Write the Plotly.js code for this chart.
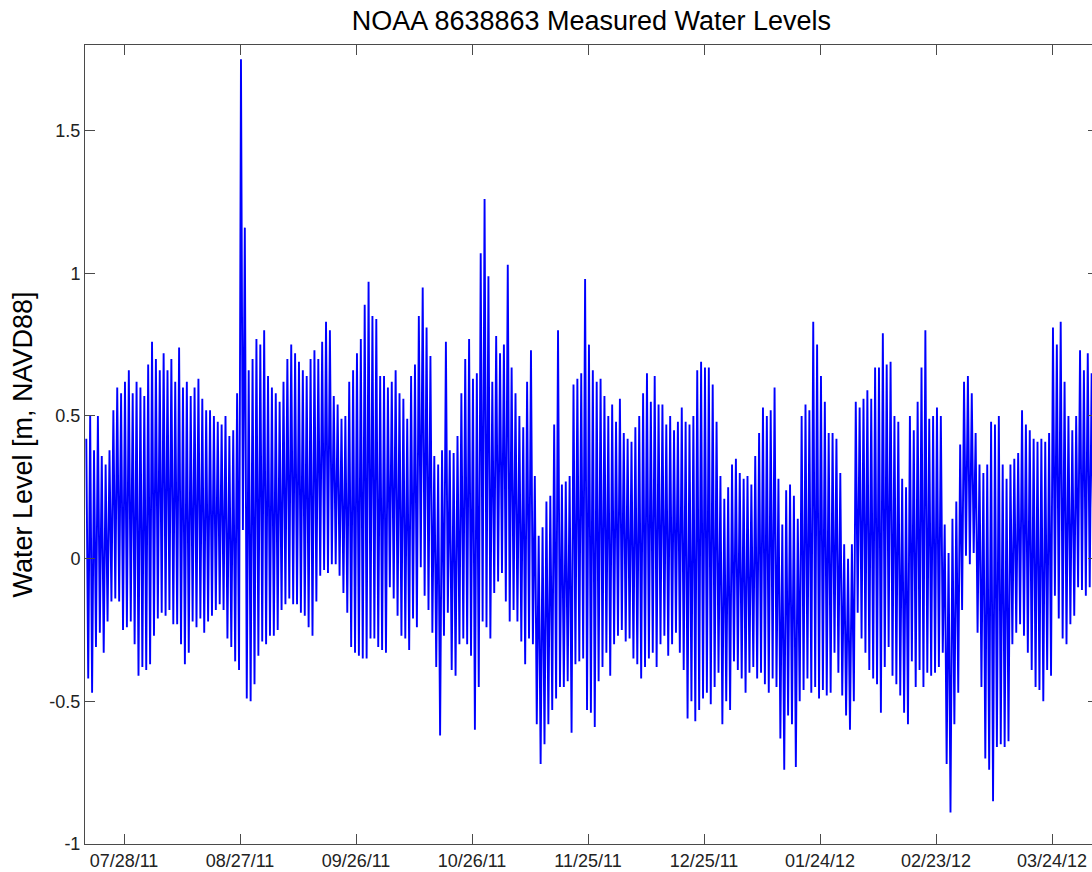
<!DOCTYPE html>
<html><head><meta charset="utf-8">
<script src="https://cdn.plot.ly/plotly-3.0.1.min.js"></script>
<style>html,body{margin:0;padding:0;overflow:hidden;background:#fff}#chart{width:1100px;height:872px}</style>
</head><body><div id="chart"></div>
<script>
// Daily water level extremes (m, NAVD88), one pair per day starting at startDay
const startDay = '2011-07-18';
const dailyHigh = [
 0.42,0.50,0.38,0.50,0.36,0.33,0.38,0.52,0.60,0.58,0.62,0.66,0.58,0.62,0.60,0.57,0.68,0.76,0.70,0.66,0.72,0.66,0.70,0.62,0.74,0.60,0.62,0.57,0.60,0.63,0.56,0.52,
 0.52,0.50,0.48,0.47,0.50,0.43,0.45,0.58,1.75,1.16,0.66,0.70,0.77,0.75,0.80,0.64,0.60,0.58,0.55,0.62,0.70,0.75,0.72,0.69,0.66,0.64,0.70,0.73,0.70,0.76,0.83,0.80,0.57,
 0.54,0.49,0.50,0.62,0.66,0.72,0.77,0.89,0.97,0.85,0.84,0.64,0.64,0.60,0.62,0.66,0.58,0.56,0.49,0.64,0.68,0.85,0.95,0.81,0.71,0.36,0.33,0.38,0.76,0.38,0.37,
 0.43,0.58,0.70,0.77,0.63,0.65,1.07,1.26,0.99,0.62,0.78,0.72,0.75,1.03,0.67,0.58,0.50,0.46,0.62,0.73,0.29,0.08,0.11,0.20,0.22,0.47,0.80,0.26,0.27,0.29,0.61,0.63,0.65,
 0.98,0.75,0.66,0.62,0.63,0.57,0.50,0.54,0.48,0.56,0.44,0.42,0.41,0.46,0.50,0.58,0.65,0.55,0.64,0.54,0.54,0.47,0.50,0.45,0.48,0.53,0.48,0.47,0.50,0.66,0.69,0.67,
 0.67,0.61,0.48,0.29,0.21,0.25,0.33,0.35,0.30,0.28,0.29,0.26,0.36,0.44,0.53,0.50,0.52,0.60,0.28,0.12,0.24,0.26,0.22,0.14,0.50,0.54,0.52,0.83,0.75,0.64,0.55,0.44,
 0.44,0.42,0.30,0.05,0.00,0.05,0.55,0.53,0.56,0.59,0.56,0.67,0.67,0.79,0.68,0.69,0.50,0.48,0.28,0.25,0.50,0.45,0.55,0.67,0.80,0.49,0.50,0.53,0.50,0.12,0.02,0.14,0.20,
 0.40,0.62,0.64,0.58,0.44,0.33,0.30,0.33,0.48,0.47,0.50,0.33,0.28,0.33,0.35,0.37,0.52,0.47,0.45,0.42,0.41,0.42,0.41,0.44,0.81,0.75,0.83,0.62,0.50,0.45,0.50,0.73,0.66,0.72,0.65,0.60
];
const dailyLow = [
 -0.42,-0.47,-0.31,-0.26,-0.33,-0.22,-0.15,-0.14,-0.15,-0.25,-0.24,-0.22,-0.30,-0.41,-0.38,-0.39,-0.37,-0.27,-0.21,-0.19,-0.20,-0.18,-0.23,-0.23,-0.30,-0.37,-0.33,-0.22,-0.24,-0.21,-0.26,-0.22,
 -0.20,-0.18,-0.16,-0.18,-0.28,-0.31,-0.36,-0.39,0.10,-0.49,-0.50,-0.44,-0.34,-0.29,-0.30,-0.27,-0.27,-0.25,-0.18,-0.16,-0.14,-0.16,-0.16,-0.19,-0.20,-0.24,-0.27,-0.15,-0.06,-0.04,-0.05,-0.02,-0.02,
 -0.06,-0.12,-0.19,-0.31,-0.33,-0.34,-0.35,-0.35,-0.28,-0.28,-0.31,-0.32,-0.33,-0.10,-0.14,-0.20,-0.27,-0.28,-0.32,-0.21,-0.24,-0.03,-0.13,-0.18,-0.26,-0.38,-0.62,-0.27,-0.19,-0.39,-0.41,
 -0.30,-0.28,-0.30,-0.34,-0.60,-0.45,-0.22,-0.24,-0.28,-0.12,-0.08,-0.05,-0.15,-0.22,-0.18,-0.22,-0.29,-0.37,-0.28,-0.30,-0.58,-0.72,-0.65,-0.58,-0.53,-0.49,-0.45,-0.45,-0.43,-0.61,-0.37,-0.36,-0.35,
 -0.53,-0.54,-0.59,-0.43,-0.38,-0.33,-0.41,-0.30,-0.27,-0.25,-0.29,-0.28,-0.35,-0.37,-0.42,-0.38,-0.35,-0.33,-0.38,-0.30,-0.27,-0.34,-0.30,-0.26,-0.33,-0.39,-0.56,-0.50,-0.57,-0.53,-0.49,-0.47,
 -0.51,-0.45,-0.40,-0.58,-0.50,-0.53,-0.36,-0.39,-0.42,-0.47,-0.40,-0.38,-0.42,-0.40,-0.44,-0.47,-0.42,-0.45,-0.63,-0.74,-0.55,-0.58,-0.73,-0.50,-0.46,-0.42,-0.47,-0.45,-0.49,-0.46,-0.48,-0.47,
 -0.33,-0.40,-0.48,-0.55,-0.60,-0.50,-0.19,-0.28,-0.33,-0.39,-0.42,-0.44,-0.54,-0.38,-0.31,-0.41,-0.44,-0.48,-0.54,-0.58,-0.36,-0.45,-0.39,-0.45,-0.40,-0.41,-0.40,-0.38,-0.33,-0.72,-0.89,-0.58,-0.47,
 -0.18,0.01,-0.02,0.02,-0.26,-0.45,-0.70,-0.74,-0.85,-0.66,-0.65,-0.66,-0.64,-0.30,-0.26,-0.23,-0.27,-0.33,-0.39,-0.45,-0.46,-0.50,-0.39,-0.41,-0.13,-0.21,-0.28,-0.30,-0.23,-0.20,-0.10,-0.11,-0.13,-0.10,-0.05,0.00
];
const xTickDates = ['2011-07-28','2011-08-27','2011-09-26','2011-10-26','2011-11-25','2011-12-25','2012-01-24','2012-02-23','2012-03-24'];
const xTickLabels = ['07/28/11','08/27/11','09/26/11','10/26/11','11/25/11','12/25/11','01/24/12','02/23/12','03/24/12'];
const yTickValues = [-1,-0.5,0,0.5,1,1.5];
const yTickLabels = ['-1','-0.5','0','0.5','1','1.5'];
const xRange = ['2011-07-17 21:56','2012-04-04 21:30'];
const yRange = [-1, 1.8];

const base = Date.parse(startDay + 'T00:00:00Z');
const fmt = ms => new Date(ms).toISOString().slice(0,19).replace('T',' ');
const xs = [], ys = [];
for (let i = 0; i < dailyHigh.length; i++) {
  xs.push(fmt(base + (i + 0.25) * 864e5)); ys.push(dailyHigh[i]);
  xs.push(fmt(base + (i + 0.75) * 864e5)); ys.push(dailyLow[i]);
}

const font = 'Liberation Sans, Arial, Helvetica, sans-serif';
const axisCol = '#4a4a4a';
Plotly.newPlot('chart', [{
  x: xs, y: ys, type: 'scatter', mode: 'lines',
  line: {color: '#0000ff', width: 1.9}, hoverinfo: 'skip'
}], {
  width: 1100, height: 872,
  margin: {l: 85, r: 2, t: 45, b: 28},
  paper_bgcolor: '#fff', plot_bgcolor: '#fff',
  showlegend: false,
  title: {text: 'NOAA 8638863 Measured Water Levels', font: {family: font, size: 27, color: '#000'},
          x: 0.5, xref: 'paper', xanchor: 'center', y: 0.976, yref: 'container', yanchor: 'middle'},
  xaxis: {type: 'date', range: xRange, tickmode: 'array', tickvals: xTickDates, ticktext: xTickLabels,
          ticks: 'inside', ticklen: 10, tickwidth: 1, tickcolor: axisCol,
          showline: true, linecolor: axisCol, linewidth: 1, mirror: 'ticks',
          showgrid: false, zeroline: false, tickfont: {family: font, size: 18, color: '#222'}},
  yaxis: {range: yRange, tickmode: 'array', tickvals: yTickValues, ticktext: yTickLabels,
          ticks: 'inside', ticklen: 10, tickwidth: 1, tickcolor: axisCol,
          showline: true, linecolor: axisCol, linewidth: 1, mirror: 'ticks',
          showgrid: false, zeroline: false, tickfont: {family: font, size: 18, color: '#222'},
          title: {text: 'Water Level [m, NAVD88]', font: {family: font, size: 27, color: '#000'}, standoff: 8}}
}, {displayModeBar: false, staticPlot: true});
</script></body></html>
